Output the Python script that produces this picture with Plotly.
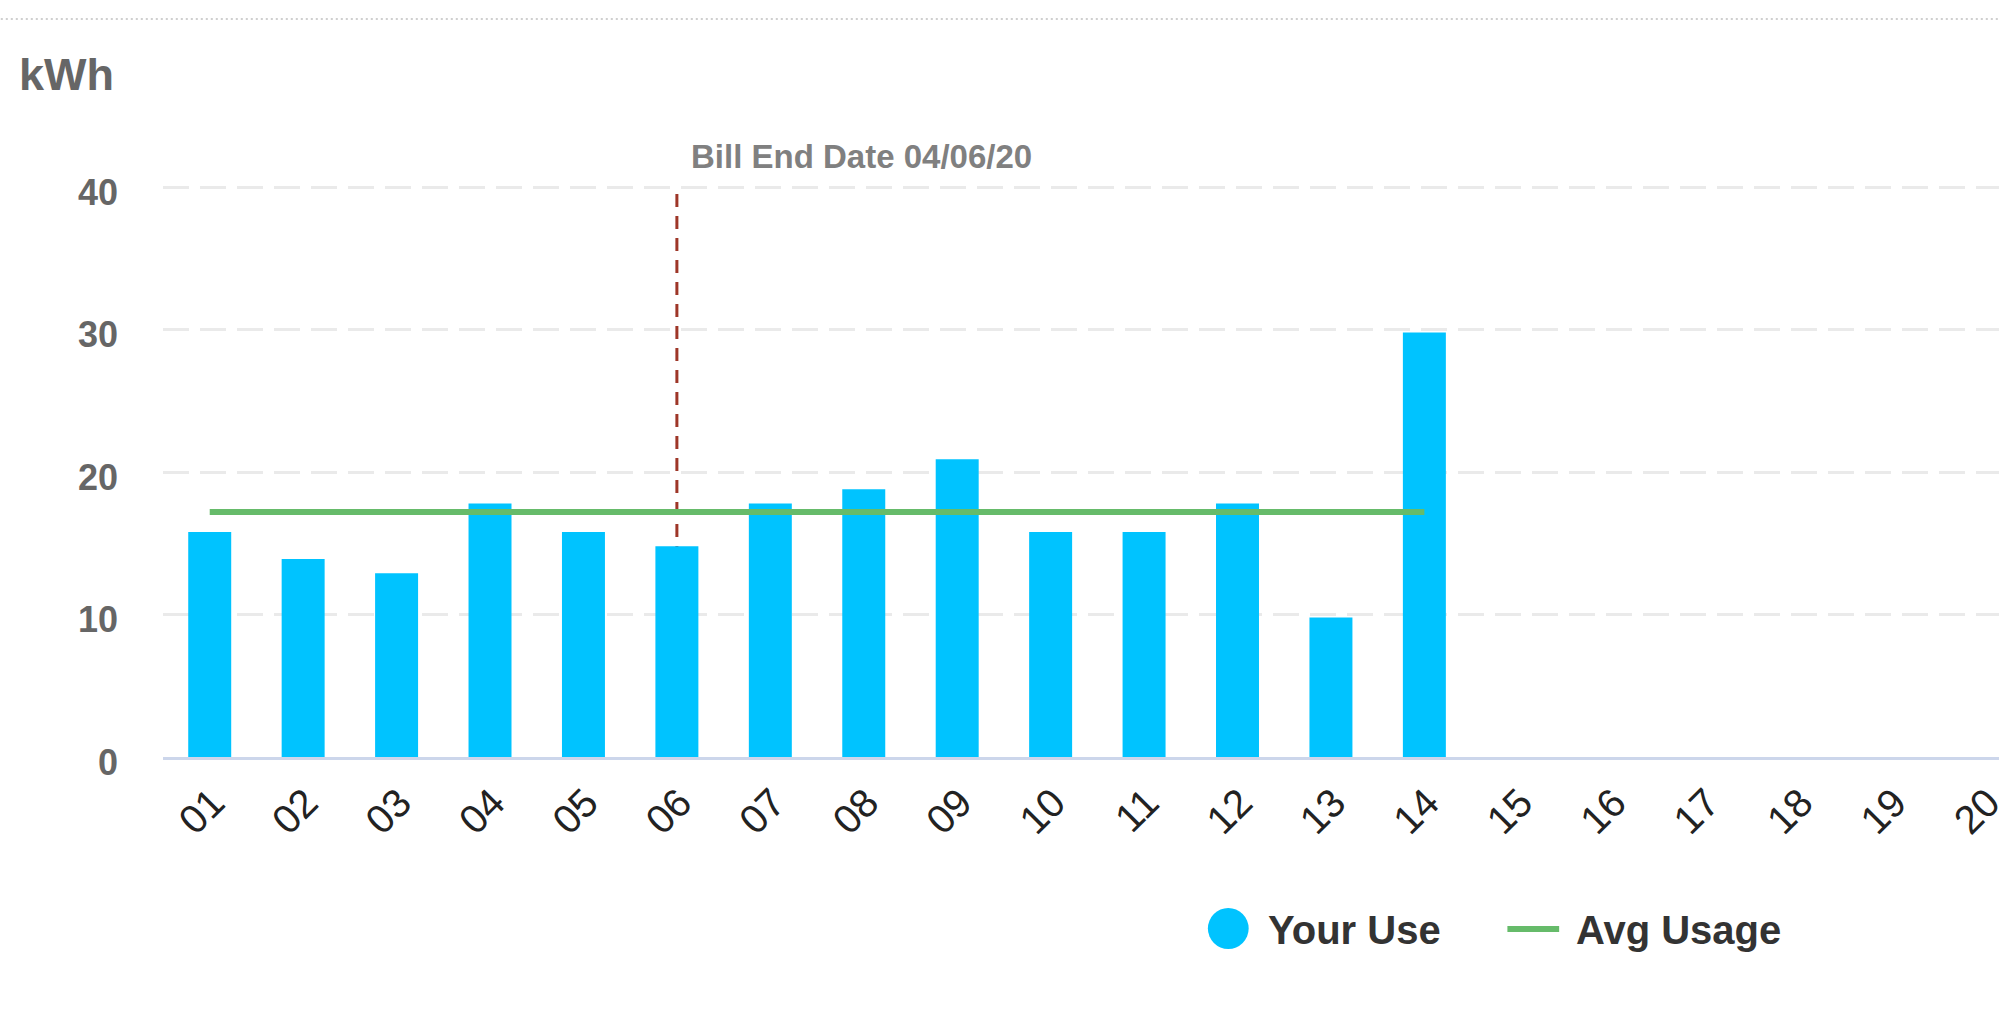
import plotly.graph_objects as go

# ---------------- data ----------------
days = ["01", "02", "03", "04", "05", "06", "07", "08", "09", "10",
        "11", "12", "13", "14", "15", "16", "17", "18", "19", "20"]
your_use = [15.8, 13.9, 12.9, 17.8, 15.8, 14.8, 17.8, 18.8, 20.9, 15.8,
            15.8, 17.8, 9.8, 29.8, None, None, None, None, None, None]
avg_days = ["01", "02", "03", "04", "05", "06", "07",
            "08", "09", "10", "11", "12", "13", "14"]
avg_usage = [17.2, 17.2, 17.2, 17.2, 17.2, 17.2, 17.2,
             17.2, 17.2, 17.2, 17.2, 17.2, 17.2, 17.2]
y_ticks = [0, 10, 20, 30, 40]
bill_end_day = "06"
bill_end_label = "Bill End Date 04/06/20"
unit_label = "kWh"
legend_names = ["Your Use", "Avg Usage"]

# ---------------- style ----------------
W_FIG, H_FIG = 2008, 1018
L, T, B = 163, 180, 757
PW, PH = W_FIG - L, B - T
FONT = "Liberation Sans, Arial, Helvetica, sans-serif"
BAR_C = "#00C3FF"
AVG_C = "#66BB6A"
RED_C = "#9E3628"

bill_idx = days.index(bill_end_day)  # category position of the marker


def px_x(px):
    return (px - L) / PW


def px_y(py):
    return (B - py) / PH


fig = go.Figure()
fig.add_trace(go.Bar(
    x=days, y=your_use, name=legend_names[0], marker_color=BAR_C,
    marker_line_width=0, showlegend=False))
fig.add_trace(go.Scatter(
    x=avg_days, y=avg_usage, name=legend_names[1], mode="lines",
    line=dict(color=AVG_C, width=6), showlegend=False))

shapes = [
    # bill end date marker
    dict(type="line", xref="x", yref="y", x0=bill_idx, x1=bill_idx,
         y0=0, y1=40, line=dict(color=RED_C, width=3, dash="13px,9px"),
         layer="between"),
    # top dotted separator
    dict(type="line", xref="paper", yref="paper", x0=px_x(0), x1=px_x(W_FIG),
         y0=px_y(19), y1=px_y(19),
         line=dict(color="#cfcfcf", width=2, dash="2px,3px")),
    # legend symbols
    dict(type="circle", xref="paper", yref="paper",
         x0=px_x(1213), x1=px_x(1254), y0=px_y(949), y1=px_y(908),
         fillcolor=BAR_C, line=dict(width=0)),
    dict(type="line", xref="paper", yref="paper",
         x0=px_x(1514), x1=px_x(1566), y0=px_y(929), y1=px_y(929),
         line=dict(color=AVG_C, width=6)),
]

annotations = [
    dict(text=unit_label, xref="paper", yref="paper", x=px_x(16), y=px_y(74),
         xanchor="left", yanchor="middle", showarrow=False,
         font=dict(family=FONT, size=45, color="#666666", weight="bold")),
    dict(text=bill_end_label, xref="x", yref="paper", x=bill_idx,
         xshift=12, y=px_y(157), xanchor="left", yanchor="middle",
         showarrow=False,
         font=dict(family=FONT, size=33, color="#808080", weight="bold")),
    dict(text=legend_names[0], xref="paper", yref="paper", x=px_x(1271),
         y=px_y(930), xanchor="left", yanchor="middle", showarrow=False,
         font=dict(family=FONT, size=40, color="#333333", weight="bold")),
    dict(text=legend_names[1], xref="paper", yref="paper", x=px_x(1581),
         y=px_y(930), xanchor="left", yanchor="middle", showarrow=False,
         font=dict(family=FONT, size=40, color="#333333", weight="bold")),
]

fig.update_layout(
    width=W_FIG, height=H_FIG, autosize=False,
    margin=dict(l=L, r=0, t=T, b=H_FIG - B, pad=0),
    paper_bgcolor="white", plot_bgcolor="white",
    bargap=0.54, showlegend=False,
    shapes=shapes, annotations=annotations,
    xaxis=dict(
        type="category", categoryorder="array", categoryarray=days,
        range=[-0.5, 19.15], showgrid=False, zeroline=False,
        showline=True, linecolor="#CCD6EB", linewidth=3,
        ticks="", tickangle=-45, ticklabelshift=3, ticklabelstandoff=3,
        tickfont=dict(family=FONT, size=40, color="#222222"),
        fixedrange=True),
    yaxis=dict(
        range=[0, 40.5], tickmode="array", tickvals=y_ticks,
        showgrid=True, gridcolor="#EAEAEA", gridwidth=3,
        griddash="26px,11px", zeroline=False, showline=False,
        ticks="", ticklabelstandoff=44, ticklabelshift=5,
        tickfont=dict(family=FONT, size=36, color="#666666", weight="bold"),
        fixedrange=True),
)

fig.write_html("out.html", config={"displayModeBar": False})
